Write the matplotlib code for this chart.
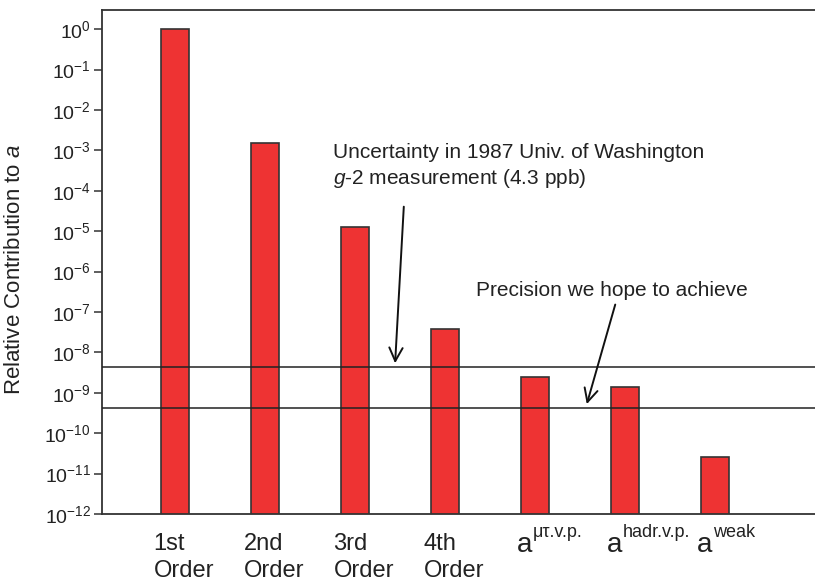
import matplotlib
matplotlib.use("Agg")
import matplotlib.pyplot as plt
import matplotlib.transforms as mtransforms
from matplotlib.ticker import LogLocator, LogFormatterMathtext, NullLocator

plt.rcParams['font.family'] = ['Liberation Sans', 'DejaVu Sans']
plt.rcParams['mathtext.fontset'] = 'custom'
plt.rcParams['mathtext.rm'] = 'Liberation Sans'
plt.rcParams['mathtext.it'] = 'Liberation Sans:italic'
plt.rcParams['axes.unicode_minus'] = False

# data
categories = ['1st\nOrder', '2nd\nOrder', '3rd\nOrder', '4th\nOrder', 'a', 'a', 'a']
superscripts = ['', '', '', '', 'μτ.v.p.', 'hadr.v.p.', 'weak']
contributions = [1.0, 1.5e-3, 1.3e-5, 3.8e-8, 2.4e-9, 1.4e-9, 2.6e-11]
uw_uncertainty = 4.3e-9
goal_precision = 4.3e-10

fig = plt.figure(figsize=(8.15, 5.86), dpi=100)
ax = fig.add_axes([102 / 815, 72 / 586, 713 / 815, 504 / 586])
ax.set_yscale('log')

x = list(range(len(categories)))
ax.bar(x, contributions, width=0.32, color='#EE3333', edgecolor='#333333',
       linewidth=1.2, zorder=2)

ax.axhline(uw_uncertainty, color='#222222', lw=1.1, zorder=3)
ax.axhline(goal_precision, color='#222222', lw=1.1, zorder=3)

ax.set_xlim(-0.811, 7.111)
ax.set_ylim(1e-12, 2.99)

ax.yaxis.set_major_locator(LogLocator(base=10, numticks=20))
ax.yaxis.set_major_formatter(LogFormatterMathtext())
ax.yaxis.set_minor_locator(NullLocator())
ax.tick_params(axis='y', direction='out', length=6, width=1.1,
               color='#333333', labelsize=14, pad=2, labelcolor='#222222')
ax.set_xticks([])

for s in ['top', 'bottom', 'left']:
    ax.spines[s].set_color('#333333')
    ax.spines[s].set_linewidth(1.3)
ax.spines['right'].set_visible(False)

ax.set_ylabel('Relative Contribution to $a$', fontsize=16, color='#222222')
ax.yaxis.set_label_coords(-0.108, 0.486)

# category labels under the axis
top_tr = mtransforms.offset_copy(ax.transData, fig=fig, x=0, y=-19, units='dots')
base_tr = mtransforms.offset_copy(ax.transData, fig=fig, x=0, y=-38, units='dots')
sup_tr = mtransforms.offset_copy(ax.transData, fig=fig, x=16, y=-23, units='dots')
for xi, lab, sup in zip(x, categories, superscripts):
    if sup:
        ax.text(xi - 0.2, 1e-12, lab, transform=base_tr, ha='left', va='baseline',
                fontsize=20, color='#222222', clip_on=False)
        ax.text(xi - 0.2, 1e-12, sup, transform=sup_tr, ha='left', va='baseline',
                fontsize=13, color='#222222', clip_on=False)
    else:
        ax.text(xi - 0.24, 1e-12, lab, transform=top_tr, ha='left', va='top',
                fontsize=17, linespacing=1.3, color='#222222', clip_on=False)

ax.text(1.756, 1.53e-3, 'Uncertainty in 1987 Univ. of Washington\n'
        r'$g$-2 measurement (4.3 ppb)', ha='left', va='top', fontsize=15,
        color='#222222', linespacing=1.3)
ax.annotate('', xy=(2.444, 4.6e-9), xytext=(2.544, 4.74e-5),
            arrowprops=dict(arrowstyle='->', color='#111111', lw=1.4,
                            mutation_scale=24))

ax.text(3.344, 2.5e-7, 'Precision we hope to achieve', ha='left',
        va='baseline', fontsize=15, color='#222222')
ax.annotate('', xy=(4.567, 4.5e-10), xytext=(4.9, 1.78e-7),
            arrowprops=dict(arrowstyle='->', color='#111111', lw=1.4,
                            mutation_scale=24))

fig.savefig('out.png', dpi=100)
